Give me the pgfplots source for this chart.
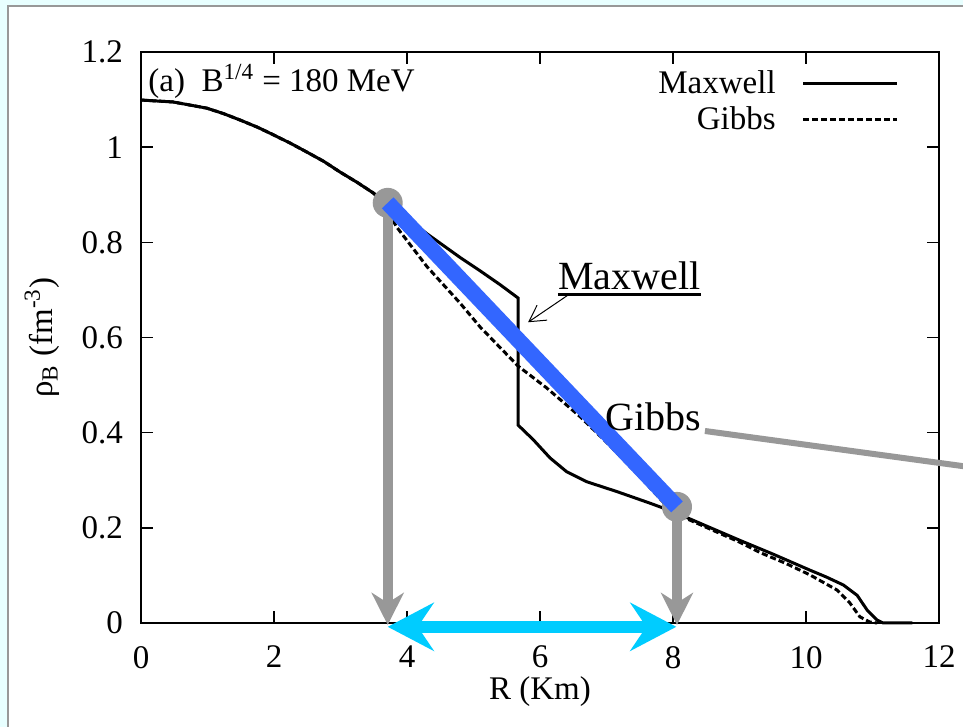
\documentclass[border=0pt]{standalone}
\usepackage{fontspec}
\setmainfont{Liberation Serif}
\usepackage{pgfplots}
\pgfplotsset{compat=1.18}
\usetikzlibrary{arrows.meta}
\definecolor{slidebg}{RGB}{232,255,255}
\definecolor{markgray}{RGB}{152,152,152}
\definecolor{barblue}{RGB}{51,102,255}
\definecolor{spancyan}{RGB}{0,204,255}
\newcommand{\tickfont}{\fontsize{16.5}{19}\selectfont}
\newcommand{\notefont}{\fontsize{20}{23}\selectfont}

\begin{document}
\begin{tikzpicture}[x=0.5pt,y=0.5pt]
\useasboundingbox (0,0) rectangle (963,727);
\clip (0,0) rectangle (963,727);
\fill[slidebg] (0,0) rectangle (963,727);
\filldraw[fill=white,draw=markgray,line width=1pt] (8,-10) rectangle (990,721);
\begin{axis}[
  at={(70.5pt,52pt)}, anchor=south west,
  scale only axis, width=399pt, height=285.5pt,
  xmin=0, xmax=12, ymin=0, ymax=1.2,
  xtick={0,2,4,6,8,10,12},
  ytick={0,0.2,0.4,0.6,0.8,1,1.2},
  tick align=inside, major tick length=6pt,
  axis line style={line width=0.7pt},
  every tick/.style={line width=0.7pt, black},
  /pgf/number format/assume math mode=true,
  ticklabel style={font=\tickfont},
  xticklabel style={yshift=-8pt},
  yticklabel style={xshift=-5.5pt},
  xlabel={R (Km)},
  ylabel={ρ\textsubscript{B} (fm\textsuperscript{-3})},
  every axis x label/.style={at={(axis description cs:0.5,-0.12)}, anchor=center, font=\tickfont},
  every axis y label/.style={at={(axis description cs:-0.124,0.5)}, rotate=90, anchor=center, font=\tickfont},
  legend style={font=\tickfont, draw=none, fill=none, inner sep=0pt,
    at={(axis description cs:0.95,0.975)}, anchor=north east,
    row sep=1pt},
  legend cell align=right,
  legend plot pos=right,
  legend image code/.code={\path (0pt,0pt); \draw[#1] (11pt,0pt) -- (58pt,0pt);},
  clip=false,
]
\addplot[black, line width=1.5pt] coordinates {
  (0,1.099) (0.48,1.095) (0.99,1.082) (1.25,1.070) (1.49,1.057) (1.75,1.042)
  (1.99,1.026) (2.25,1.008) (2.49,0.990) (2.75,0.970) (2.99,0.948)
  (3.25,0.926) (3.49,0.904) (3.71,0.883)
  (3.9,0.862) (4.3,0.818) (4.8,0.768) (5.1,0.740) (5.4,0.711) (5.67,0.683)
  (5.67,0.416) (5.9,0.385) (6.15,0.347) (6.4,0.318) (6.7,0.297) (7.16,0.276)
  (7.65,0.252) (8.0,0.234) (8.5,0.204) (9.0,0.174) (9.5,0.145) (10.06,0.111)
  (10.3,0.097) (10.56,0.080) (10.77,0.058) (10.92,0.027) (11.07,0.006)
  (11.16,0) (11.6,0)
};
\addplot[black, line width=1.5pt, dash pattern=on 3pt off 1.5pt] coordinates {
  (0,1.099) (0.48,1.095) (0.99,1.082) (1.25,1.070) (1.49,1.057) (1.75,1.042)
  (1.99,1.026) (2.25,1.008) (2.49,0.990) (2.75,0.970) (2.99,0.948)
  (3.25,0.926) (3.49,0.904) (3.65,0.882)
  (3.84,0.833) (4.3,0.749) (4.8,0.672) (5.1,0.622) (5.67,0.540) (6.1,0.494)
  (6.6,0.434) (7.0,0.380) (7.5,0.308) (7.8,0.262) (8.0,0.232) (8.5,0.201)
  (9.0,0.170) (9.31,0.148) (9.7,0.125) (10.06,0.101) (10.47,0.069)
  (10.66,0.042) (10.81,0.013) (10.96,0.002) (11.07,0)
};
\legend{Maxwell,Gibbs}

% panel label
\node[anchor=base west, inner sep=0pt, font=\tickfont]
  at (axis description cs:0.0088,0.930) {(a)\ \ B\textsuperscript{1/4} = 180 MeV};

% annotations
\draw[markgray, line width=5pt, -{Stealth[length=16pt,width=16pt,inset=5pt]}]
  (axis cs:3.71,0.883) -- (axis cs:3.71,-0.004);
\draw[markgray, line width=5pt, -{Stealth[length=16pt,width=16pt,inset=5pt]}]
  (axis cs:8.06,0.244) -- (axis cs:8.06,-0.004);
\draw[spancyan, line width=6pt,
  {Stealth[length=23pt,width=24pt,inset=8pt]}-{Stealth[length=23pt,width=24pt,inset=8pt]}]
  (axis cs:3.71,-0.008) -- (axis cs:8.05,-0.008);
\fill[markgray] (axis cs:3.71,0.883) circle[radius=7.5pt];
\fill[markgray] (axis cs:8.06,0.244) circle[radius=7.5pt];
\draw[barblue, line width=8pt] (axis cs:3.71,0.883) -- (axis cs:8.06,0.244);
\draw[markgray, line width=3pt] (axis cs:8.48,0.4035) -- (axis cs:12.92,0.319);
\node[anchor=base west, inner sep=0pt, font=\notefont] at (axis cs:6.98,0.405) {Gibbs};
\node[anchor=base west, inner sep=0pt, font=\notefont] (mx) at (axis cs:6.27,0.700) {Maxwell};
\draw[line width=1.5pt] ([yshift=-2.5pt]mx.base west) -- ([yshift=-2.5pt]mx.base east);
\draw[line width=0.5pt, -{Straight Barb[length=8pt,width=9pt]}]
  (axis cs:6.42,0.689) -- (axis cs:5.82,0.632);
\end{axis}
\end{tikzpicture}
\end{document}
